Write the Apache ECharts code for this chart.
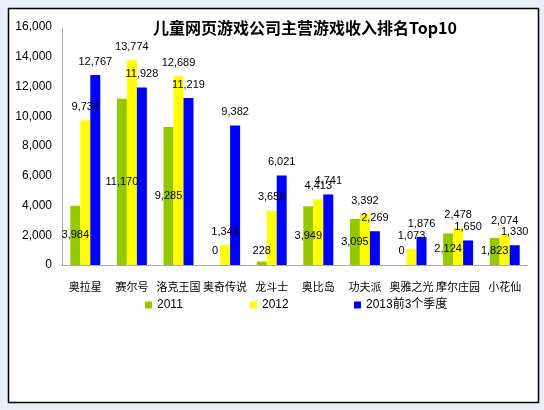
<!DOCTYPE html>
<html>
<head>
<meta charset="utf-8">
<script src="https://cdn.jsdelivr.net/npm/echarts@6/dist/echarts.min.js"></script>
<style>
html,body{margin:0;padding:0;background:#e9eef8;}
#c{width:544px;height:410px;}
</style>
</head>
<body>
<div id="c"></div>
<script>
var title = '儿童网页游戏公司主营游戏收入排名Top10';
var categories = ['奥拉星','赛尔号','洛克王国','奥奇传说','龙斗士','奥比岛','功夫派','奥雅之光','摩尔庄园','小花仙'];
var seriesNames = ['2011','2012','2013前3个季度'];
var values2011 = [3984, 11170, 9285, 0, 228, 3949, 3095, 0, 2124, 1823];
var values2012 = [9738, 13774, 12689, 1343, 3656, 4413, 3392, 1073, 2478, 2074];
var values2013 = [12767, 11928, 11219, 9382, 6021, 4741, 2269, 1876, 1650, 1330];
var yTicks = {min: 0, max: 16000, interval: 2000};

var colors = ['#96c800', '#ffff00', '#0000ff'];
var chart = echarts.init(document.getElementById('c'));
var fmt = function (p) { return p.value.toLocaleString('en-US'); };
var labelFont = {fontFamily: 'Liberation Sans, Arial, sans-serif', fontSize: 11, color: '#000'};
function legend(name, left) {
  return {
    data: [name], left: left, top: 294, itemWidth: 7, itemHeight: 7, itemGap: 5,
    icon: 'rect',
    textStyle: {fontFamily: 'Liberation Sans, Noto Sans CJK SC, sans-serif', fontSize: 12, color: '#000'}
  };
}
// centered labels of very short bars are lifted off the axis, as in the original
var data2011 = values2011.map(function (v) {
  return v < 1000 ? {value: v, label: {position: 'insideBottom', distance: 9}} : v;
});
chart.setOption({
  backgroundColor: '#e9eef8',
  animation: false,
  color: colors,
  graphic: [{
    type: 'rect', z: -10,
    shape: {x: 8.5, y: 8.5, width: 530, height: 394},
    style: {fill: '#ffffff', stroke: '#000000', lineWidth: 1.5}
  }],
  title: {
    text: title, left: 300, textAlign: 'center', top: 15,
    textStyle: {fontFamily: 'Noto Sans CJK SC, sans-serif', fontSize: 16, fontWeight: 'bold', color: '#000'}
  },
  legend: [legend(seriesNames[0], 140), legend(seriesNames[1], 245), legend(seriesNames[2], 349)],
  grid: {left: 62, right: 16, top: 27, bottom: 145},
  xAxis: {
    type: 'category', data: categories,
    axisLine: {lineStyle: {color: '#999', type: 'dotted'}},
    axisTick: {show: false},
    axisLabel: {interval: 0, margin: 16, fontFamily: 'Noto Sans CJK SC, sans-serif', fontSize: 11, color: '#000'}
  },
  yAxis: {
    type: 'value', min: yTicks.min, max: yTicks.max, interval: yTicks.interval,
    axisLine: {show: true, lineStyle: {color: '#999', type: 'dotted'}},
    axisTick: {show: false},
    splitLine: {show: false},
    axisLabel: {margin: 10, fontFamily: 'Liberation Sans, Arial, sans-serif', fontSize: 12, color: '#000',
      formatter: function (v) { return v.toLocaleString('en-US'); }}
  },
  series: [
    {name: seriesNames[0], type: 'bar', data: data2011, barWidth: 10, barGap: '0%',
      itemStyle: {color: colors[0]},
      label: Object.assign({show: true, position: 'inside', formatter: fmt}, labelFont)},
    {name: seriesNames[1], type: 'bar', data: values2012, barWidth: 10, barGap: '0%',
      itemStyle: {color: colors[1]},
      label: Object.assign({show: true, position: 'top', distance: 8, formatter: fmt}, labelFont)},
    {name: seriesNames[2], type: 'bar', data: values2013, barWidth: 10, barGap: '0%',
      itemStyle: {color: colors[2]},
      label: Object.assign({show: true, position: 'top', distance: 8, formatter: fmt}, labelFont)}
  ]
});
</script>
</body>
</html>
